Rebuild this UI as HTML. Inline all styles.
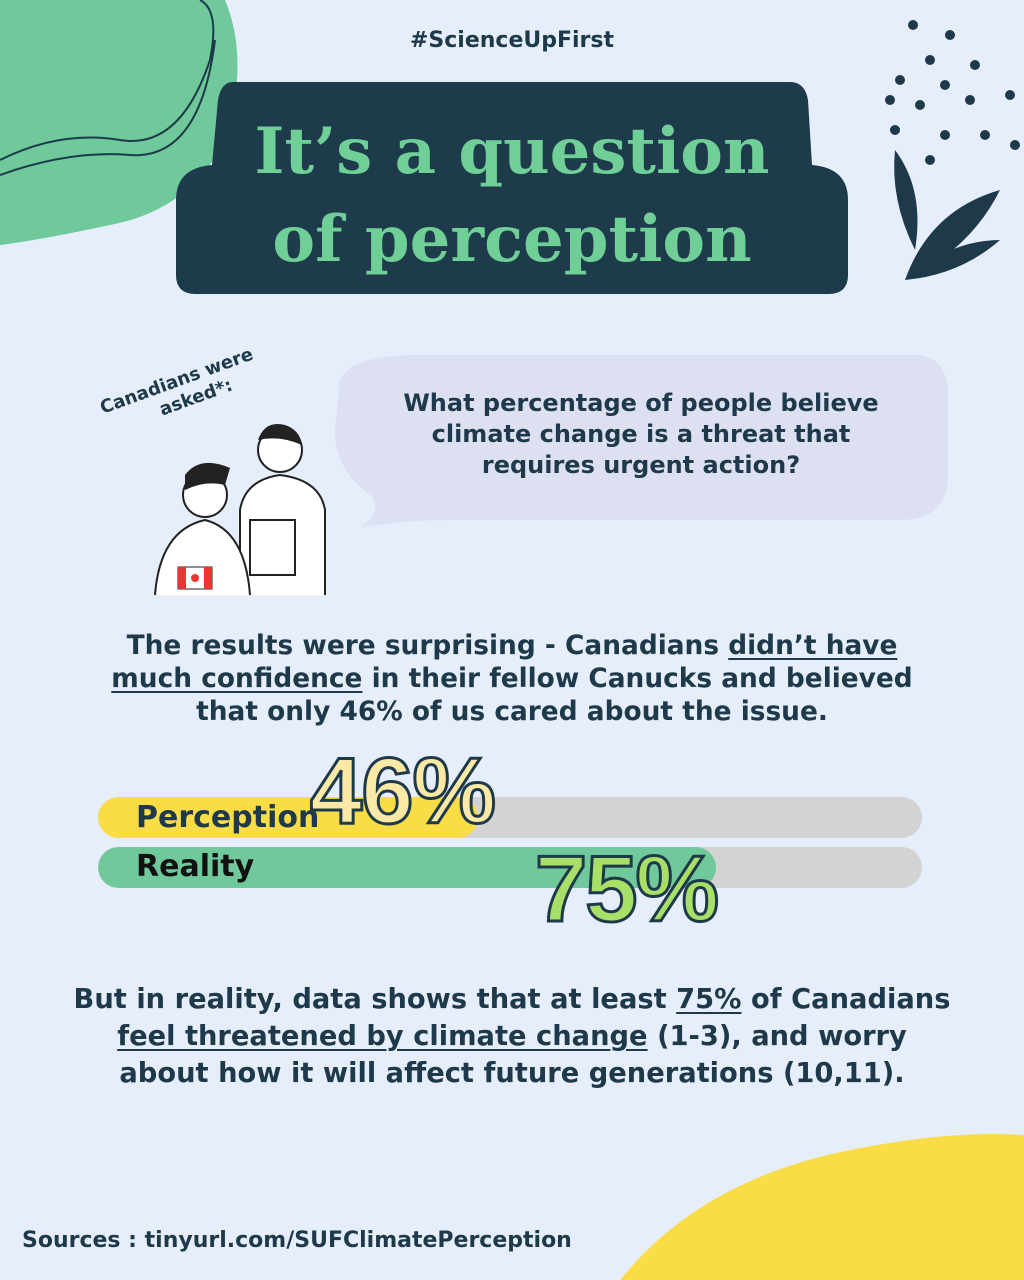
<!DOCTYPE html><html><head><style>
body{margin:0;width:1024px;height:1280px;background:#e6eefb;position:relative;overflow:hidden;font-family:"DejaVu Sans","Liberation Sans",sans-serif;color:#1e3a4a}
.a{position:absolute}
.c{text-align:center;width:1024px;left:0}
u{text-decoration-thickness:2px;text-underline-offset:4px}
.bar{position:absolute;left:98px;width:824px;height:41px;border-radius:21px;background:#d3d3d3;overflow:hidden}
.big{font-family:"Liberation Sans",sans-serif;font-weight:bold;font-size:94px;line-height:94px;-webkit-text-stroke:3px #1e3a4a;letter-spacing:-1px}
</style></head><body>
<svg class="a" style="left:0;top:0" width="1024" height="1280">
<path d="M0 0 H225 Q250 60 225 140 Q190 210 110 225 Q40 240 0 245Z" fill="#6fc99a"/>
<path d="M0 160 Q60 130 120 140 Q180 150 210 60 Q220 10 200 0 M0 175 Q70 150 130 155 Q200 160 215 40" stroke="#1e3a4a" stroke-width="2" fill="none"/>
<path d="M620 1280 Q700 1180 850 1150 Q950 1130 1024 1135 V1280Z" fill="#fadd46"/>
<path d="M233 82 H790 Q805 82 808 100 L812 165 Q848 168 848 200 V275 Q848 294 828 294 H196 Q176 294 176 275 V200 Q176 168 212 165 L218 100 Q221 82 233 82Z" fill="#1e3b4c"/>
<path d="M340 380 Q350 355 420 355 H920 Q950 360 948 400 V480 Q945 520 900 520 H450 Q400 520 360 528 Q385 510 370 495 Q335 470 335 430Z" fill="#dde0f0"/>
<g fill="#1e3a4a"><circle cx="913" cy="25" r="5"/><circle cx="950" cy="35" r="5"/><circle cx="930" cy="60" r="5"/><circle cx="975" cy="65" r="5"/><circle cx="900" cy="80" r="5"/><circle cx="945" cy="85" r="5"/><circle cx="890" cy="100" r="5"/><circle cx="920" cy="105" r="5"/><circle cx="970" cy="100" r="5"/><circle cx="1010" cy="95" r="5"/><circle cx="895" cy="130" r="5"/><circle cx="945" cy="135" r="5"/><circle cx="985" cy="135" r="5"/><circle cx="930" cy="160" r="5"/><circle cx="1015" cy="145" r="5"/>
<path d="M895 150 Q925 190 915 250 Q890 200 895 150Z"/><path d="M905 280 Q930 210 1000 190 Q970 250 905 280Z"/><path d="M1000 240 Q950 240 905 280 Q960 275 1000 240Z"/></g>
<g stroke="#222" stroke-width="2" fill="#fff"><circle cx="280" cy="450" r="22"/><path d="M240 595 V510 Q245 480 280 475 Q320 480 325 510 V595"/><rect x="250" y="520" width="45" height="55"/><circle cx="205" cy="495" r="22"/><path d="M155 595 Q160 530 205 520 Q245 530 250 595"/></g>
<path d="M185 475 Q200 455 230 468 L225 485 Q205 480 185 490Z M258 440 Q265 420 285 425 Q300 430 302 445 Q280 435 258 440Z" fill="#222"/>
<rect x="178" y="567" width="34" height="22" fill="#fff" stroke="#222"/><rect x="178" y="567" width="8" height="22" fill="#e33"/><rect x="204" y="567" width="8" height="22" fill="#e33"/><circle cx="195" cy="578" r="4" fill="#e33"/>
</svg>
<div class="a c" style="top:28px;font-weight:bold;font-size:22px">#ScienceUpFirst</div>
<div class="a c" style="top:108px;font-family:'DejaVu Serif','Liberation Serif',serif;font-weight:bold;font-size:64px;line-height:88px;color:#6fcf97">It’s a question<br>of perception</div>
<div class="a" style="left:100px;top:370px;font-weight:bold;font-size:18px;transform:rotate(-20deg);text-align:center;line-height:22px">Canadians were<br>&nbsp;&nbsp;&nbsp;&nbsp;asked*:</div>
<div class="a" style="left:341px;top:388px;width:600px;text-align:center;font-weight:bold;font-size:24px;line-height:31px">What percentage of people believe<br>climate change is a threat that<br>requires urgent action?</div>
<div class="a c" style="top:629px;font-weight:bold;font-size:26.4px;line-height:33px">The results were surprising - Canadians <u>didn’t have<br>much confidence</u> in their fellow Canucks and believed<br>that only 46% of us cared about the issue.</div>
<div class="bar" style="top:797px"><div style="width:380px;height:41px;background:#fadd46;border-radius:21px"></div></div>
<div class="bar" style="top:847px"><div style="width:618px;height:41px;background:#6fc99a;border-radius:21px"></div></div>
<div class="a" style="left:136px;top:800px;font-weight:bold;font-size:30px">Perception</div>
<div class="a" style="left:136px;top:849px;font-weight:bold;font-size:30px;color:#111">Reality</div>
<div class="a big" style="left:310px;top:744px;color:#fde9a6">46%</div>
<div class="a big" style="left:535px;top:842px;color:#a8e067;letter-spacing:-2px">75%</div>
<div class="a c" style="top:981px;font-weight:bold;font-size:27.3px;line-height:37px">But in reality, data shows that at least <u>75%</u> of Canadians<br><u>feel threatened by climate change</u> (1-3), and worry<br>about how it will affect future generations (10,11).</div>
<div class="a" style="left:22px;top:1228px;font-weight:bold;font-size:22px">Sources : tinyurl.com/SUFClimatePerception</div>
</body></html>
